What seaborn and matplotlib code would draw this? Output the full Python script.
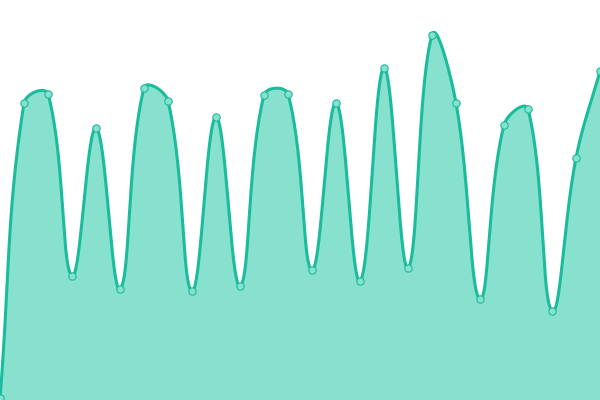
import numpy as np
import pandas as pd
import matplotlib
matplotlib.use("Agg")
import matplotlib.pyplot as plt
import seaborn as sns

# Data (0..400 scale)
labels = list(range(26))
values = [2, 297, 306, 124, 272, 111, 312, 299, 109, 283, 114, 305, 306,
          130, 297, 119, 332, 132, 365, 297, 101, 275, 291, 89, 242, 329]

LINE = "#1abc9c"
FILL = "#88e0cf"
TENSION = 0.4
STEP = 24.0


def spline_controls(xs, ys, t):
    n = len(xs)
    cps = []
    for i in range(n):
        p = (xs[max(i - 1, 0)], ys[max(i - 1, 0)])
        c = (xs[i], ys[i])
        nx = (xs[min(i + 1, n - 1)], ys[min(i + 1, n - 1)])
        d01 = np.hypot(c[0] - p[0], c[1] - p[1])
        d12 = np.hypot(nx[0] - c[0], nx[1] - c[1])
        s01 = d01 / (d01 + d12) if (d01 + d12) > 0 else 0
        s12 = d12 / (d01 + d12) if (d01 + d12) > 0 else 0
        fa, fb = t * s01, t * s12
        cp1 = (c[0] - fa * (nx[0] - p[0]), c[1] - fa * (nx[1] - p[1]))
        cp2 = (c[0] + fb * (nx[0] - p[0]), c[1] + fb * (nx[1] - p[1]))
        cp1 = (cp1[0], min(max(cp1[1], 0), 400))
        cp2 = (cp2[0], min(max(cp2[1], 0), 400))
        cps.append((cp1, cp2))
    return cps


xs = [i * STEP for i in labels]
ys = values
cps = spline_controls(xs, ys, TENSION)
cx, cy = [], []
tt = np.linspace(0, 1, 60)
for i in range(len(xs) - 1):
    P0 = np.array([xs[i], ys[i]])
    P1 = np.array(cps[i][1])
    P2 = np.array(cps[i + 1][0])
    P3 = np.array([xs[i + 1], ys[i + 1]])
    seg = ((1 - tt)[:, None] ** 3 * P0 + 3 * ((1 - tt) ** 2 * tt)[:, None] * P1
           + 3 * ((1 - tt) * tt ** 2)[:, None] * P2 + (tt ** 3)[:, None] * P3)
    cx.extend(seg[:, 0])
    cy.extend(seg[:, 1])

curve = pd.DataFrame({"x": cx, "y": cy, "order": np.arange(len(cx))})
pts = pd.DataFrame({"x": xs, "y": ys})

sns.set_theme(style="white")
fig = plt.figure(figsize=(6, 4), dpi=100)
ax = fig.add_axes([0, 0, 1, 1])
ax.fill_between(curve["x"], curve["y"], 0, color=FILL, linewidth=0, zorder=1)
sns.lineplot(data=curve, x="x", y="y", sort=False, estimator=None, ax=ax,
             color=LINE, linewidth=2.2, zorder=2)
sns.scatterplot(data=pts, x="x", y="y", ax=ax, s=28, color=FILL,
                edgecolor=LINE, linewidth=0.8, zorder=3, clip_on=False)
ax.set_xlim(0, 600)
ax.set_ylim(0, 400)
ax.axis("off")
fig.savefig("out.png", dpi=100)
